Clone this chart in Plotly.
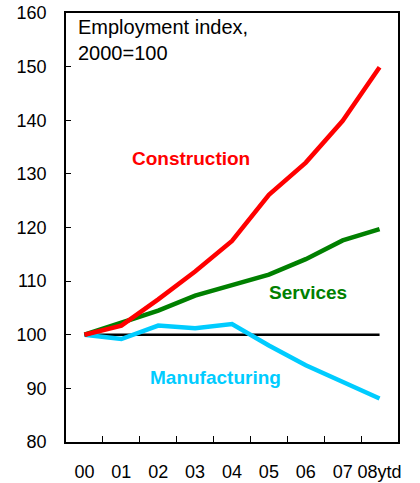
import plotly.graph_objects as go

years = ["00", "01", "02", "03", "04", "05", "06", "07", "08ytd"]
construction = [100, 101.7, 106.6, 111.8, 117.5, 126.1, 132.1, 139.9, 149.9]
services = [100, 102.2, 104.5, 107.3, 109.3, 111.2, 114.1, 117.6, 119.7]
manufacturing = [100, 99.2, 101.7, 101.2, 102.0, 98.0, 94.3, 91.1, 88.1]
baseline = [100] * len(years)

RED = "#FF0000"
GREEN = "#008000"
CYAN = "#00CCFF"
FONT = "Arial, Liberation Sans, sans-serif"

fig = go.Figure()
fig.add_trace(go.Scatter(x=years, y=baseline, mode="lines",
                         line=dict(color="black", width=2.5)))
fig.add_trace(go.Scatter(x=years, y=manufacturing, mode="lines",
                         line=dict(color=CYAN, width=4.5)))
fig.add_trace(go.Scatter(x=years, y=services, mode="lines",
                         line=dict(color=GREEN, width=4.5)))
fig.add_trace(go.Scatter(x=years, y=construction, mode="lines",
                         line=dict(color=RED, width=4.5)))

# series labels sit in data coords (x = category index)
labels = [
    ("Construction", 2.9, 132.8, RED),
    ("Services", 6.06, 107.8, GREEN),
    ("Manufacturing", 3.56, 92.1, CYAN),
]
for text, xpos, yv, color in labels:
    fig.add_annotation(x=xpos, y=yv, text=f"<b>{text}</b>",
                       showarrow=False, xref="x", yref="y",
                       font=dict(family=FONT, size=19, color=color))

fig.add_annotation(x=0.03, y=0.997, xref="paper", yref="paper",
                   xanchor="left", yanchor="top", align="left",
                   text="Employment index,<br>2000=100", showarrow=False,
                   font=dict(family=FONT, size=20, color="black"))

fig.update_layout(
    width=420, height=483,
    margin=dict(l=66, r=22, t=13, b=41),
    paper_bgcolor="white", plot_bgcolor="white",
    showlegend=False,
    font=dict(family=FONT, size=18, color="black"),
    xaxis=dict(type="category", range=[-0.5, 8.5], showgrid=False,
               showline=True, linecolor="black", linewidth=1.5, mirror=True,
               ticks="inside", tickson="boundaries", ticklen=6,
               tickcolor="black", tickangle=0, automargin=False,
               ticklabelstandoff=13, ticklabeloverflow="allow"),
    yaxis=dict(range=[80, 160], dtick=10, showgrid=False, zeroline=False,
               showline=True, linecolor="black", linewidth=1.5, mirror=True,
               ticks="inside", ticklen=5, tickcolor="black",
               ticklabelstandoff=14, automargin=False,
               ticklabeloverflow="allow"),
)

# drop the default 8px body margin so the 420x483 figure fills the window
fig.write_html("out.html", config={"displayModeBar": False},
               post_script="document.body.style.margin='0';")
